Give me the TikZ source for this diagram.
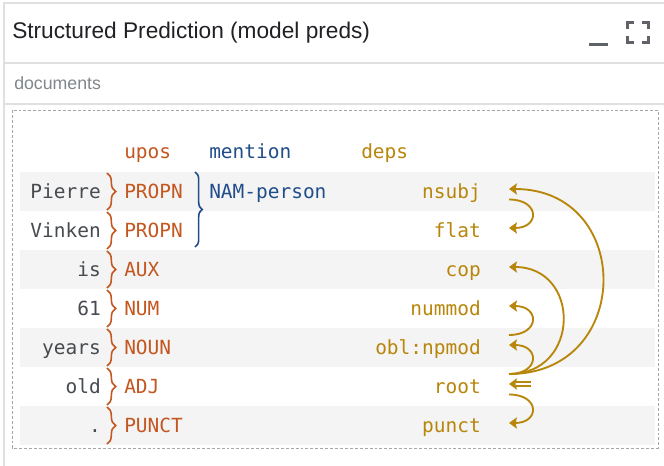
\documentclass[tikz,border=0pt]{standalone}
\usepackage{fontspec}
\setmainfont{Liberation Sans}
\newfontfamily\monof{DejaVu Sans Mono}
\usetikzlibrary{arrows.meta,decorations.pathreplacing}
\definecolor{uposc}{HTML}{C4561F}
\definecolor{mentc}{HTML}{214E8A}
\definecolor{depc}{HTML}{B8860B}
\definecolor{wordc}{HTML}{474B50}
\definecolor{cardline}{HTML}{E0E0E0}
\definecolor{rowshade}{HTML}{F4F4F4}
\definecolor{iconc}{HTML}{5F6368}
\definecolor{titlec}{HTML}{202124}
\definecolor{subc}{HTML}{80868B}
\begin{document}
\begin{tikzpicture}[x=0.75pt,y=-0.75pt,
  mono/.style={font=\monof\fontsize{14.6}{16}\selectfont, inner sep=0pt},
  wordtxt/.style={mono, text=wordc, anchor=base east},
  upostxt/.style={mono, text=uposc, anchor=base west},
  menttxt/.style={mono, text=mentc, anchor=base west},
  deptxt/.style={mono, text=depc, anchor=base east},
  uposbrace/.style={draw=uposc, line width=1.2pt, decorate, decoration={brace, amplitude=6.5pt}},
  mentbrace/.style={draw=mentc, line width=1.2pt, decorate, decoration={brace, amplitude=5.5pt}},
  deparc/.style={draw=depc, line width=1.4pt, -{Stealth[length=6pt,width=8.5pt,inset=1.2pt]}},
  rootarrow/.style={draw=depc, line width=0.9pt, double=white, double distance=2pt, -{Stealth[length=6pt,width=8.5pt,inset=1.2pt]}},
  shade/.style={fill=rowshade, draw=none},
  cardrule/.style={draw=cardline, line width=0.9pt},
  icon/.style={draw=iconc, line width=2.2pt},
]
\useasboundingbox (0,0) rectangle (664,466);
\fill[white] (0,0) rectangle (664,466);

% card frame
\draw[cardrule] (4,466) -- (4,3) -- (664,3);
\draw[cardrule] (4,63) -- (664,63);
\draw[cardrule] (4,104) -- (664,104);

% title and icons
\node[anchor=base west, inner sep=0pt, text=titlec, font=\fontsize{17}{20}\selectfont] (title) at (12,39) {Structured Prediction (model preds)};
\fill[iconc] (589,43.5) rectangle (608,46.5);
\draw[icon] (627.5,29) -- (627.5,22.5) -- (634,22.5);
\draw[icon] (642,22.5) -- (648.5,22.5) -- (648.5,29);
\draw[icon] (627.5,36) -- (627.5,42.5) -- (634,42.5);
\draw[icon] (642,42.5) -- (648.5,42.5) -- (648.5,36);
\node[anchor=base west, inner sep=0pt, text=subc, font=\fontsize{13.3}{15}\selectfont] (docs) at (14,90) {documents};

% dashed box
\draw[draw=gray!70, line width=0.7pt, dash pattern=on 2.2pt off 1.5pt] (12,110) rectangle (658,448);

% row shading
\foreach \i in {0,2,4,6} {
  \fill[rowshade] (20,{172+39*\i}) rectangle (655,{211+39*\i});
}

% headers
\node[upostxt] (hupos) at (124,159) {upos};
\node[menttxt] (hment) at (209,159) {mention};
\node[mono, text=depc, anchor=base west] (hdeps) at (361,159) {deps};

% rows
\foreach \w/\u/\d [count=\i from 0] in {Pierre/PROPN/nsubj, Vinken/PROPN/flat, is/AUX/cop, 61/NUM/nummod, years/NOUN/obl:npmod, old/ADJ/root, ./PUNCT/punct} {
  \node[wordtxt] (w\i) at (101,{198.5+39*\i}) {\w};
  \node[upostxt] (u\i) at (124,{198.5+39*\i}) {\u};
  \node[deptxt] (d\i) at (481,{198.5+39*\i}) {\d};
  \draw[uposbrace] (107,{173+39*\i}) -- (107,{210+39*\i});
}
\node[menttxt] (m0) at (209,198.5) {NAM-person};
\draw[mentbrace] (195,172) -- (195,247);

% arc anchor points
\foreach \i in {0,...,6} {
  \coordinate (in\i) at (509,{189+39*\i});
  \coordinate (up\i) at (509,{179+39*\i});
  \coordinate (dn\i) at (509,{199.5+39*\i});
}
\coordinate (rootsrc) at (531,384);

% dependency arcs
\draw[deparc] (up5) .. controls +(125,0) and +(125,0) .. (in0);
\draw[deparc] (up5) .. controls +(72,0) and +(72,0) .. (in2);
\draw[deparc] (up5) .. controls +(31,0) and +(31,0) .. (in4);
\draw[deparc] (dn0) .. controls +(31,0) and +(31,0) .. (in1);
\draw[deparc] (up4) .. controls +(31,0) and +(31,0) .. (in3);
\draw[deparc] (dn5) .. controls +(31,0) and +(31,0) .. (in6);
\draw[rootarrow] (rootsrc) -- (in5);
\end{tikzpicture}
\end{document}
